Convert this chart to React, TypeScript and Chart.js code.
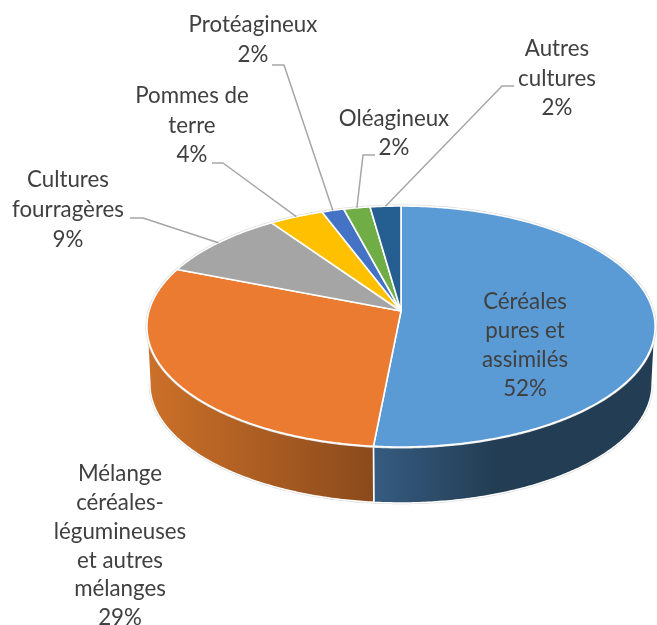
import React, { useEffect, useRef } from "react";
import { Chart, registerables } from "chart.js";

Chart.register(...registerables);

const categories = [
  "Céréales pures et assimilés",
  "Mélange céréales-légumineuses et autres mélanges",
  "Cultures fourragères",
  "Pommes de terre",
  "Protéagineux",
  "Oléagineux",
  "Autres cultures",
];
const shares = [51.52, 29.47, 9.4, 3.9, 1.6, 1.9, 2.21];
const colours = ["#5b9bd5", "#ea7b31", "#a5a5a5", "#ffc000", "#4472c4", "#70ad47", "#255e91"];

const labelLines = [
  ["Céréales", "pures et", "assimilés"],
  ["Mélange", "céréales-", "légumineuses", "et autres", "mélanges"],
  ["Cultures", "fourragères"],
  ["Pommes de", "terre"],
  ["Protéagineux"],
  ["Oléagineux"],
  ["Autres", "cultures"],
];
const labelCentreX = [525, 120, 68, 192, 253, 394, 557];
const labelFirstY = [302, 474, 180, 96, 25, 119, 49];
const LINE_STEP = [29, 28.8, 30, 29.5, 30, 29, 29.5];
// Leader elbows: [start x, start y, elbow x]
const leaders: (number[] | null)[] = [
  null,
  null,
  [130, 218, 143],
  [212, 163, 223],
  [272, 65, 284],
  [375, 155, 363],
  [514, 86, 502],
];

const top = { cx: 401, cy: 311, rx: 252, ry: 118.5 };
const bottom = { cx: 401, cy: 368.7, rx: 249, ry: 117 };
const K = 0.1286;
const VISIBLE_FROM = Math.PI - Math.acos(K);
const VISIBLE_TO = Math.PI + Math.acos(K);

type Geo = { cx: number; cy: number; rx: number; ry: number };
const project = (theta: number, g: Geo): [number, number] => {
  const u = Math.sin(theta);
  const v = -Math.cos(theta);
  const w = 1 / (1 - K * v);
  return [g.cx + g.rx * u * w, g.cy + g.ry * v * w];
};

const rimPoints = (a: number, b: number, g: Geo) => {
  const n = Math.max(2, Math.ceil(Math.abs(b - a) / 0.01));
  const pts: [number, number][] = [];
  for (let i = 0; i <= n; i++) pts.push(project(a + ((b - a) * i) / n, g));
  return pts;
};

const tracePoints = (ctx: CanvasRenderingContext2D, pts: [number, number][]) => {
  ctx.beginPath();
  pts.forEach((p, i) => (i ? ctx.lineTo(p[0], p[1]) : ctx.moveTo(p[0], p[1])));
  ctx.closePath();
};

const sideGradient = (ctx: CanvasRenderingContext2D, i: number) => {
  if (i === 0) {
    const g = ctx.createLinearGradient(375, 0, 655, 0);
    g.addColorStop(0, "#365b80");
    g.addColorStop(0.42, "#233e54");
    g.addColorStop(1, "#233e54");
    return g;
  }
  const g = ctx.createLinearGradient(148, 0, 375, 0);
  g.addColorStop(0, "#cc7029");
  g.addColorStop(1, "#8a4a1c");
  return g;
};

const pie3d = {
  id: "pie3d",
  beforeDatasetsDraw(chart: any) {
    const ctx: CanvasRenderingContext2D = chart.ctx;
    const arcs = chart.getDatasetMeta(0).data;
    const toTheta = (a: number) => a + Math.PI / 2;
    ctx.save();
    ctx.lineJoin = "round";

    // Outer faint edge and the side wall
    const silhouette = [...rimPoints(VISIBLE_FROM, VISIBLE_TO, bottom)];
    ctx.beginPath();
    silhouette.forEach((p, i) => (i ? ctx.lineTo(p[0], p[1]) : ctx.moveTo(p[0], p[1])));
    ctx.strokeStyle = "#d4d4d4";
    ctx.lineWidth = 2.5;
    ctx.stroke();

    arcs.forEach((arc: any, i: number) => {
      const a = Math.max(toTheta(arc.startAngle), VISIBLE_FROM);
      const b = Math.min(toTheta(arc.endAngle), VISIBLE_TO);
      if (b <= a) return;
      const pts = [...rimPoints(a, b, top), ...rimPoints(b, a, bottom)];
      tracePoints(ctx, pts);
      ctx.fillStyle = sideGradient(ctx, i);
      ctx.fill();
      ctx.strokeStyle = "#ffffff";
      ctx.lineWidth = 1.5;
      ctx.stroke();
    });

    // Top faces
    const whole = rimPoints(0, Math.PI * 2, top);
    tracePoints(ctx, whole);
    ctx.strokeStyle = "#dcdcdc";
    ctx.lineWidth = 3;
    ctx.stroke();
    arcs.forEach((arc: any) => {
      const a = toTheta(arc.startAngle);
      const b = toTheta(arc.endAngle);
      const pts: [number, number][] = [[top.cx, top.cy], ...rimPoints(a, b, top)];
      tracePoints(ctx, pts);
      ctx.fillStyle = arc.options.backgroundColor;
      ctx.fill();
      ctx.strokeStyle = "#ffffff";
      ctx.lineWidth = 1.6;
      ctx.stroke();
    });

    // Leader lines
    ctx.strokeStyle = "#a6a6a6";
    ctx.lineWidth = 1.5;
    arcs.forEach((arc: any, i: number) => {
      const l = leaders[i];
      if (!l) return;
      const end = project((toTheta(arc.startAngle) + toTheta(arc.endAngle)) / 2, top);
      ctx.beginPath();
      ctx.moveTo(l[0], l[1]);
      ctx.lineTo(l[2], l[1]);
      ctx.lineTo(end[0], end[1]);
      ctx.stroke();
    });

    // Labels
    const total = shares.reduce((s, x) => s + x, 0);
    ctx.fillStyle = "#404040";
    ctx.font = '22.3px Lato, "Open Sans", sans-serif';
    ctx.textAlign = "center";
    ctx.textBaseline = "middle";
    categories.forEach((_, i) => {
      const lines = [...labelLines[i], `${Math.round((shares[i] / total) * 100)}%`];
      lines.forEach((t, j) => ctx.fillText(t, labelCentreX[i], labelFirstY[i] + j * LINE_STEP[i]));
    });
    ctx.restore();
    return false;
  },
};

export default function App() {
  const ref = useRef<HTMLCanvasElement>(null);
  useEffect(() => {
    const chart = new Chart(ref.current!, {
      type: "pie",
      data: {
        labels: categories,
        datasets: [{ data: shares, backgroundColor: colours, borderColor: "#ffffff" }],
      },
      options: {
        animation: false,
        responsive: false,
        plugins: { legend: { display: false }, tooltip: { enabled: false } },
      },
      plugins: [pie3d],
    } as any);
    return () => chart.destroy();
  }, []);
  return (
    <canvas
      ref={ref}
      width={657}
      height={625}
      style={{ position: "absolute", left: 0, top: 0, width: 657, height: 625, background: "#ffffff" }}
    />
  );
}
